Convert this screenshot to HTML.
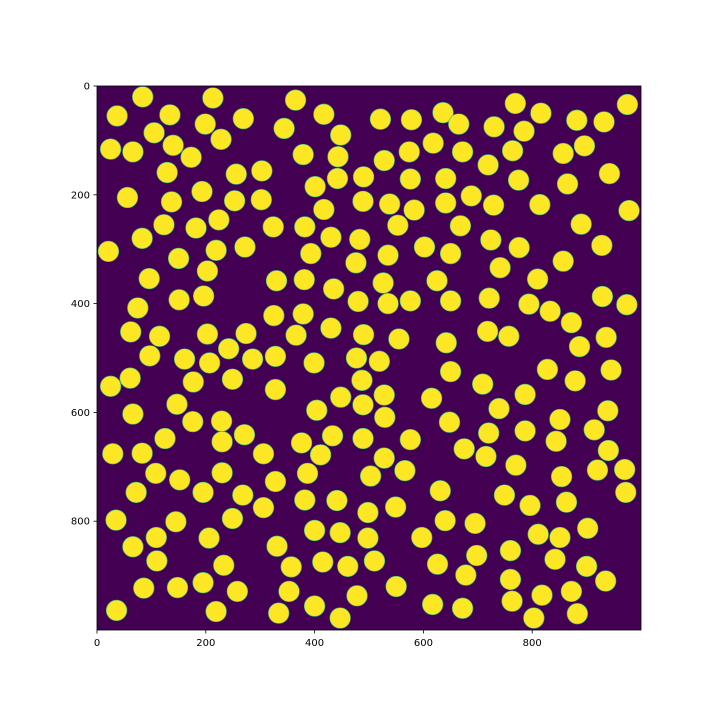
<!DOCTYPE html>
<html><head><meta charset="utf-8"><style>
html,body{margin:0;padding:0;background:#fff}
svg text{font-family:"DejaVu Sans","Liberation Sans",sans-serif;font-size:10px;fill:#000}
</style></head><body>
<svg id="chart" width="720" height="720" viewBox="0 0 720 720" xmlns="http://www.w3.org/2000/svg">
<defs><clipPath id="clip"><rect x="97" y="86" width="544" height="544"/></clipPath></defs>
<rect x="97" y="86" width="544" height="544" fill="#440154"/>
<g id="circles" clip-path="url(#clip)"></g>
<rect x="97" y="86" width="544" height="544" fill="none" stroke="#000" stroke-width="0.8"/>
<g id="ticks"></g>
</svg>
<script>
const cx = [84,213,37,134,269,199,344,105,228,25,66,140,173,129,256,303,56,193,137,253,302,123,224,182,324,83,21,219,272,150,203,
365,417,521,578,636,665,448,379,443,618,528,574,672,442,490,401,576,641,417,489,538,583,641,688,382,430,483,553,668,393,476,535,602,650,
769,975,816,882,932,730,785,764,857,896,719,775,865,942,729,814,978,890,724,776,928,741,857,
96,330,151,196,75,325,62,115,203,274,97,161,207,242,286,328,61,25,177,249,328,147,66,176,229,271,125,230,
381,435,526,625,480,535,576,650,379,430,366,490,555,642,399,477,519,650,487,448,489,528,615,404,529,648,433,489,576,376,
810,721,794,833,929,974,718,757,872,887,936,828,879,945,709,787,739,851,939,720,787,914,844,
29,83,306,108,152,230,328,72,195,268,306,35,145,249,109,206,66,331,110,233,86,148,195,258,36,219,334,
411,528,387,503,566,382,441,498,549,631,640,400,447,498,597,415,461,510,626,357,353,478,550,400,447,617,
675,715,940,770,854,920,970,972,749,796,863,695,811,851,902,698,760,842,900,678,760,935,818,872,763,672,803,883];
const cy = [20,22,55,53,60,70,78,86,98,116,121,109,131,159,162,156,205,194,213,211,209,255,246,261,259,280,304,302,296,317,340,
26,52,61,62,49,70,90,126,130,105,137,121,121,170,167,185,171,170,227,212,217,228,215,202,259,278,282,256,257,308,325,311,296,308,
32,34,50,63,66,75,83,119,124,110,145,173,180,161,219,218,229,254,283,297,293,334,322,
354,358,393,386,408,422,452,460,456,455,496,502,509,483,502,497,537,552,544,539,558,585,603,617,616,641,648,654,
356,373,362,358,396,400,395,395,419,445,458,457,465,472,509,500,506,525,541,572,586,568,574,596,609,618,643,648,650,656,
355,390,401,414,387,402,451,460,435,479,462,521,542,522,548,567,593,613,597,638,634,632,653,
676,675,676,712,724,711,727,747,747,752,775,798,801,795,830,831,847,846,873,881,923,922,913,929,964,966,969,
678,684,712,717,707,761,762,784,774,744,799,817,821,831,830,875,883,873,879,884,929,937,920,956,978,953,
667,681,670,697,718,706,705,747,752,771,765,804,824,830,813,863,854,870,883,899,907,910,936,929,947,960,978,970];
const radius = [19];
const xTicks = [0,200,400,600,800];
const yTicks = [0,200,400,600,800];

const X0=97, Y0=86, S=544/1000;
function xs(v){return X0+v*S;}
function ys(v){return Y0+v*S;}
const NS='http://www.w3.org/2000/svg';
const g=document.getElementById('circles');
for(let i=0;i<cx.length;i++){
  const c=document.createElementNS(NS,'circle');
  
  
  c.setAttribute('cx',xs(cx[i]));c.setAttribute('cy',ys(cy[i]));
  c.setAttribute('r',radius[0]*S);
  c.setAttribute('fill','#fde725');c.setAttribute('stroke','#3aba76');c.setAttribute('stroke-width','0.6');
  g.appendChild(c);
}
const t=document.getElementById('ticks');
xTicks.forEach(v=>{
  const l=document.createElementNS(NS,'line');
  
  
  l.setAttribute('x1',xs(v));l.setAttribute('x2',xs(v));l.setAttribute('y1',630);l.setAttribute('y2',633.5);
  l.setAttribute('stroke','#000');l.setAttribute('stroke-width','0.8');t.appendChild(l);
  const tx=document.createElementNS(NS,'text');
  
  
  tx.setAttribute('x',xs(v));tx.setAttribute('y',646);tx.setAttribute('text-anchor','middle');
  tx.textContent=v;t.appendChild(tx);
});
yTicks.forEach(v=>{
  const l=document.createElementNS(NS,'line');
  
  
  l.setAttribute('x1',93.5);l.setAttribute('x2',97);l.setAttribute('y1',ys(v));l.setAttribute('y2',ys(v));
  l.setAttribute('stroke','#000');l.setAttribute('stroke-width','0.8');t.appendChild(l);
  const tx=document.createElementNS(NS,'text');
  
  
  tx.setAttribute('x',90);tx.setAttribute('y',ys(v)+3.5);tx.setAttribute('text-anchor','end');
  tx.textContent=v;t.appendChild(tx);
});
</script>
</body></html>
